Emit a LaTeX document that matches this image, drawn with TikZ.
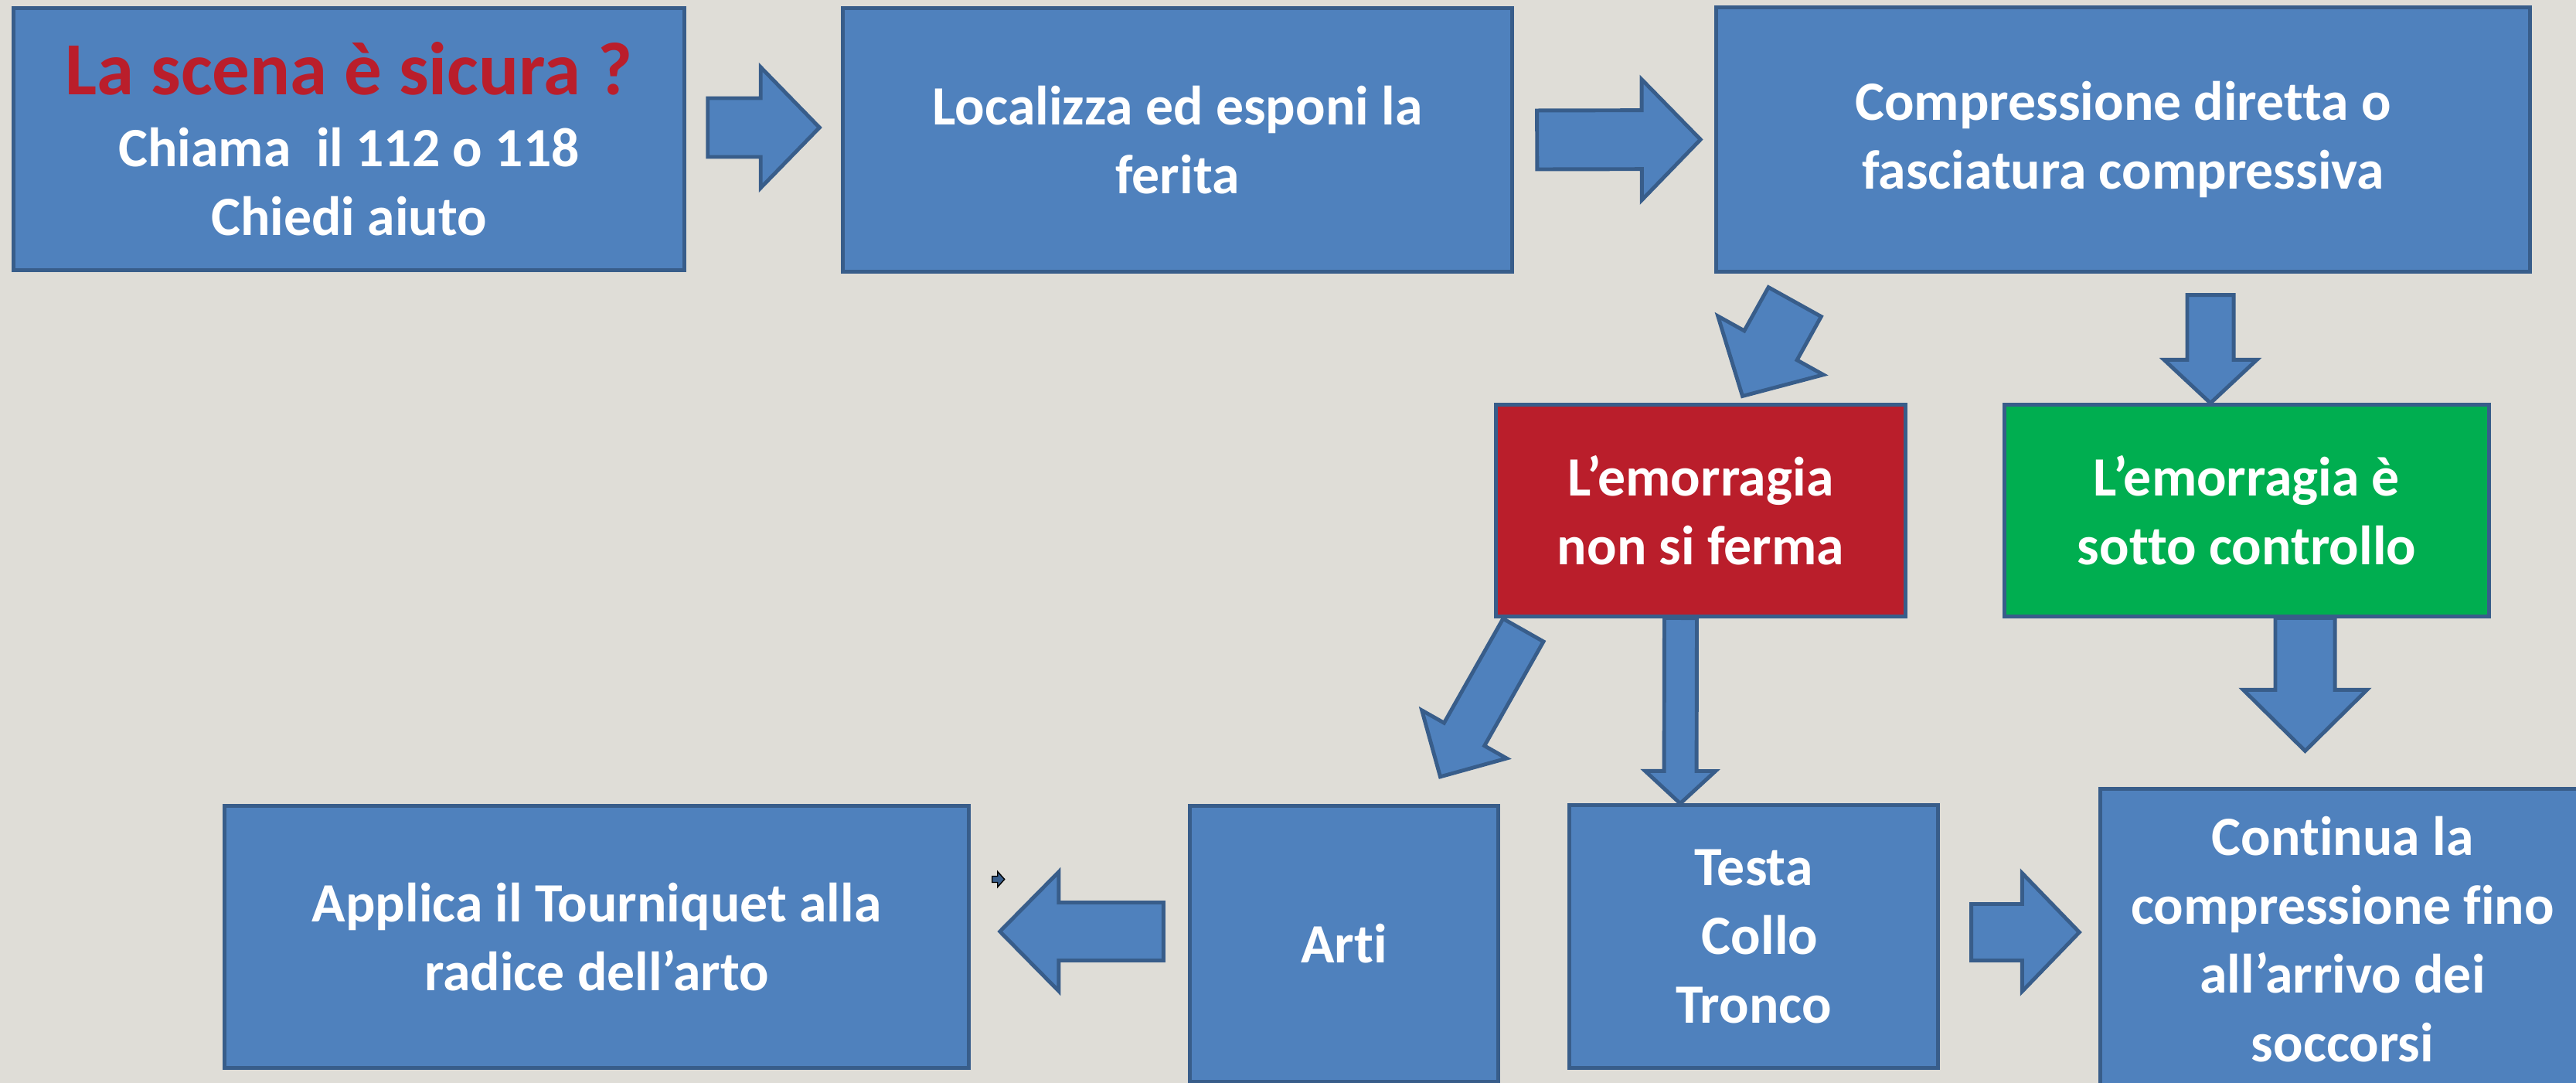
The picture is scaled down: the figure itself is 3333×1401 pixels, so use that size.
\documentclass[tikz,border=0pt]{standalone}
\usepackage{fontspec}
\setmainfont[Ligatures={TeX,NoCommon}]{Carlito}
\usetikzlibrary{calc}
\definecolor{sfondo}{RGB}{223,221,215}
\definecolor{blu}{RGB}{79,129,189}
\definecolor{bordo}{RGB}{56,93,138}
\definecolor{rosso}{RGB}{186,30,43}
\definecolor{verde}{RGB}{0,174,80}
\tikzset{box/.style={draw=bordo, line width=1.4pt, fill=blu, text=white, align=center, inner sep=0pt,
    font=\fontsize{20.4}{25.3}\selectfont\bfseries},
  barrow/.style={draw=bordo, line width=1.4pt, fill=blu}}
% block arrow: style, tail, tip, shaft half width, head half width, head length
\newcommand\barr[6][barrow]{%
  \coordinate (bt) at (#2); \coordinate (bp) at (#3);
  \coordinate (bh) at ($(bp)!#6!(bt)$);
  \draw[#1] ($(bt)!#4!90:(bp)$) -- ($(bh)!#4!90:(bp)$) -- ($(bh)!#5!90:(bp)$) -- (bp)
    -- ($(bh)!#5!-90:(bp)$) -- ($(bh)!#4!-90:(bp)$) -- ($(bt)!#4!-90:(bp)$) -- cycle;}

\begin{document}
\begin{tikzpicture}[x=0.01cm, y=-0.01cm]
\fill[sfondo] (0,0) rectangle (3333,1401);
\useasboundingbox (0,0) rectangle (3333,1401);

\node[box, minimum width=8.67cm, minimum height=3.38cm] (scena) at (451.5,180)
  {\textcolor{rosso}{\fontsize{27.6}{28}\selectfont La scena è sicura ?}\\[1.2pt]Chiama~ il 112 o 118\\Chiedi aiuto};
\node[box, minimum width=8.65cm, minimum height=3.40cm] (localizza) at (1523.5,181) {Localizza ed esponi la\\ferita};
\node[box, minimum width=10.52cm, minimum height=3.41cm] (compr) at (2747,180.5) {Compressione diretta o\\fasciatura compressiva};
\node[box, fill=rosso, minimum width=5.29cm, minimum height=2.73cm] (nonferma) at (2200.5,660.5) {L’emorragia\\non si ferma};
\node[box, fill=verde, minimum width=6.26cm, minimum height=2.73cm] (controllo) at (2907,660.5) {L’emorragia è\\sotto controllo};
\node[box, minimum width=9.62cm, minimum height=3.38cm] (applica) at (772,1212) {Applica il Tourniquet alla\\radice dell’arto};
\node[box, minimum width=3.98cm, minimum height=3.56cm] (arti) at (1739,1221) {Arti};
\node[box, minimum width=4.76cm, minimum height=3.39cm] (testa) at (2269,1211.5) {Testa\\~Collo\\Tronco};
\node[box, minimum width=6.26cm, minimum height=3.88cm] (continua) at (3031,1215) {Continua la\\compressione fino\\all’arrivo dei\\soccorsi};

\barr{$(scena.east)+(28,-15)$}{$(localizza.west)+(-28,-16)$}{0.38cm}{0.78cm}{0.76cm}
\barr{$(localizza.east)+(30,0)$}{$(compr.west)+(-18,0)$}{0.38cm}{0.78cm}{0.76cm}
\barr{$(compr.south west)+(104,37)$}{$(nonferma.north)+(54,-9)$}{0.39cm}{0.78cm}{0.75cm}
\barr{$(compr.south)+(113,28)$}{$(controllo.north)+(-47,0)$}{0.30cm}{0.60cm}{0.56cm}
\barr{$(nonferma.south west)+(37.5,15.6)$}{$(arti.north)+(124.5,-35.6)$}{0.30cm}{0.63cm}{0.63cm}
\barr{$(nonferma.south)+(-26,0)$}{$(testa.north)+(-95,0)$}{0.21cm}{0.455cm}{0.42cm}
\barr{$(controllo.south)+(75.5,0)$}{$(continua.north)+(-48.5,-47)$}{0.385cm}{0.80cm}{0.79cm}
\barr{$(testa.east)+(41,-5.5)$}{$(continua.west)+(-25,-9)$}{0.365cm}{0.765cm}{0.74cm}
\barr{$(arti.west)+(-32,-16)$}{$(applica.east)+(38,-7)$}{0.375cm}{0.77cm}{0.76cm}
\barr[fill=bordo]{$(applica.east)+(28,-74.5)$}{$(applica.east)+(44,-74.5)$}{0.04cm}{0.10cm}{0.09cm}
\end{tikzpicture}
\end{document}
